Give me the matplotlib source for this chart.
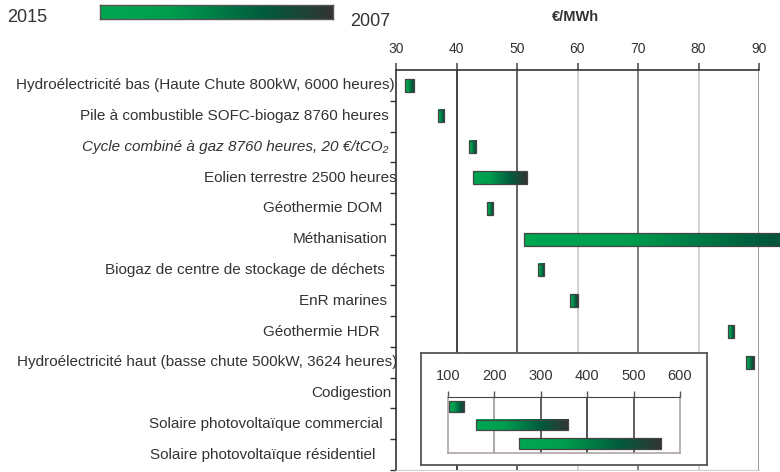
import numpy as np
import matplotlib
matplotlib.use("Agg")
import matplotlib.pyplot as plt
from matplotlib.colors import LinearSegmentedColormap
from matplotlib.transforms import offset_copy

plt.rcParams['font.family'] = ['Liberation Sans', 'DejaVu Sans']

# ---------------- data ----------------
categories = [
    "Hydroélectricité bas (Haute Chute 800kW, 6000 heures)",
    "Pile à combustible SOFC-biogaz 8760 heures",
    "Cycle combiné à gaz 8760 heures, 20 €/tCO₂",
    "Eolien terrestre 2500 heures",
    "Géothermie DOM",
    "Méthanisation",
    "Biogaz de centre de stockage de déchets",
    "EnR marines",
    "Géothermie HDR",
    "Hydroélectricité haut (basse chute 500kW, 3624 heures)",
    "Codigestion",
    "Solaire photovoltaïque commercial",
    "Solaire photovoltaïque résidentiel",
]
# cost range (€/MWh): 2015 (low, green end) -> 2007 (high, dark end)
cout_2015 = [31.5, 36.9, 42.0, 42.8, 45.0, 51.2, 53.4, 58.7, 84.8, 87.9, np.nan, np.nan, np.nan]
cout_2007 = [33.0, 38.0, 43.3, 51.7, 46.1, 107.0, 54.5, 60.0, 85.9, 89.2, np.nan, np.nan, np.nan]

# inset (high-cost technologies)
inset_categories = ["Codigestion", "Solaire photovoltaïque commercial", "Solaire photovoltaïque résidentiel"]
inset_2015 = [102.8, 160.0, 252.6]
inset_2007 = [135.7, 358.6, 560.0]

main_ticks = [30, 40, 50, 60, 70, 80, 90]
inset_ticks = [100, 200, 300, 400, 500, 600]
legend_left = "2015"
legend_right = "2007"
unit_label = "€/MWh"

# ---------------- style / layout ----------------
W, H = 780, 472
cmap = LinearSegmentedColormap.from_list(
    "grad", [(0.0, "#00A651"), (0.3, "#009E4E"), (0.7, "#005C3E"), (1.0, "#333333")])
grad = np.linspace(0, 1, 256).reshape(1, -1)
text_col = "#333333"
italic_rows = {2}
label_right_px = [395, 389, 388, 397, 382, 388, 385, 387, 380, 397, 391, 383, 375]
main_grid_cols = {40: "#333333", 50: "#555555", 60: "#cfcfcf", 70: "#777777",
                  80: "#cfcfcf", 90: "#9a9292"}
inset_grid_cols = {200: "#9a9a9a", 300: "#444444", 400: "#333333", 500: "#444444"}


def fig_rect(x0, y0, x1, y1):
    return [x0 / W, 1 - y1 / H, (x1 - x0) / W, (y1 - y0) / H]


fig = plt.figure(figsize=(W / 100, H / 100), dpi=100)

# ---------------- main axes ----------------
ax = fig.add_axes(fig_rect(396, 70, 759, 470))
ax.set_zorder(1)
n = len(categories)
rows = np.arange(n)
bh = 0.41
for x, c in main_grid_cols.items():
    ax.axvline(x, color=c, lw=1.3, zorder=1)

for i in rows:
    a, b = cout_2015[i], cout_2007[i]
    if np.isnan(a):
        continue
    bar = ax.barh(i, b - a, left=a, height=bh, facecolor="none",
                  edgecolor="#444444", lw=0.9, zorder=4)[0]
    bar.set_clip_on(False)
    im = ax.imshow(grad, cmap=cmap, aspect="auto", interpolation="bilinear",
                   extent=[bar.get_x(), bar.get_x() + bar.get_width(),
                           bar.get_y() + bar.get_height(), bar.get_y()],
                   zorder=3)
    im.set_clip_on(False)

ax.set_xlim(main_ticks[0], main_ticks[-1])
ax.set_ylim(n - 0.5, -0.5)
ax.xaxis.tick_top()
ax.set_xticks(main_ticks)
ax.set_xticklabels([str(t) for t in main_ticks])
ax.tick_params(axis="x", which="major", length=5, width=1.1, color="#444444",
               pad=5, labelsize=10, labelcolor=text_col, direction="out")
ax.set_yticks(rows + 0.5, minor=False)
ax.set_yticklabels([])
ax.tick_params(axis="y", length=4, width=1.0, color="#333333", direction="out")
ax.spines["right"].set_visible(False)
ax.spines["top"].set_color("#333333")
ax.spines["top"].set_linewidth(1.2)
ax.spines["left"].set_color("#333333")
ax.spines["left"].set_linewidth(1.2)
ax.spines["bottom"].set_color("#d0d0d0")

base = ax.get_yaxis_transform()
for i, lab in enumerate(categories):
    tr = offset_copy(base, fig=fig, x=label_right_px[i] - 396, y=0, units="dots")
    ax.text(0, i, lab, transform=tr, ha="right", va="center", fontsize=11,
            color=text_col, style="italic" if i in italic_rows else "normal",
            clip_on=False)

# ---------------- inset ----------------
frame = fig.add_axes(fig_rect(420.7, 353, 707.3, 465))
frame.set_zorder(5)
frame.set_facecolor("white")
frame.set_xticks([])
frame.set_yticks([])
for s in frame.spines.values():
    s.set_color("#555555")
    s.set_linewidth(1.3)

ins = fig.add_axes(fig_rect(447.7, 397, 680, 453))
ins.set_zorder(6)
ins.patch.set_alpha(0)
m = len(inset_categories)
irows = np.arange(m)
for x, c in inset_grid_cols.items():
    ins.axvline(x, color=c, lw=1.2, zorder=1)
ibh = 0.56
for i in irows:
    a, b = inset_2015[i], inset_2007[i]
    bar = ins.barh(i, b - a, left=a, height=ibh, facecolor="none",
                   edgecolor="#444444", lw=0.9, zorder=4)[0]
    ins.imshow(grad, cmap=cmap, aspect="auto", interpolation="bilinear",
               extent=[bar.get_x(), bar.get_x() + bar.get_width(),
                       bar.get_y() + bar.get_height(), bar.get_y()],
               zorder=3)
ins.set_xlim(inset_ticks[0], inset_ticks[-1])
ins.set_ylim(m - 0.5, -0.5)
ins.xaxis.tick_top()
ins.set_xticks(inset_ticks)
ins.set_xticklabels([str(t) for t in inset_ticks])
ins.tick_params(axis="x", length=4, width=1.0, color="#555555", pad=6,
                labelsize=10.5, labelcolor=text_col)
ins.set_yticks([])
ins.spines["top"].set_color("#444444")
for s in ["left", "right", "bottom"]:
    ins.spines[s].set_color("#a89c9c")
    ins.spines[s].set_linewidth(1.1)

# ---------------- legend bar / header ----------------
leg = fig.add_axes(fig_rect(100.5, 4.7, 333.3, 19.3))
leg.imshow(grad, cmap=cmap, aspect="auto", interpolation="bilinear", extent=[0, 1, 0, 1])
leg.set_xlim(0, 1)
leg.set_ylim(0, 1)
leg.set_xticks([])
leg.set_yticks([])
for s in leg.spines.values():
    s.set_color("#555555")
    s.set_linewidth(1.0)

fig.text(7 / W, 1 - 17 / H, legend_left, ha="left", va="center", fontsize=13, color=text_col)
fig.text(350 / W, 1 - 21.5 / H, legend_right, ha="left", va="center", fontsize=13, color=text_col)
fig.text(575 / W, 1 - 17 / H, unit_label, ha="center", va="center", fontsize=10.5,
         fontweight="bold", color=text_col)

fig.savefig("out.png", dpi=100)
